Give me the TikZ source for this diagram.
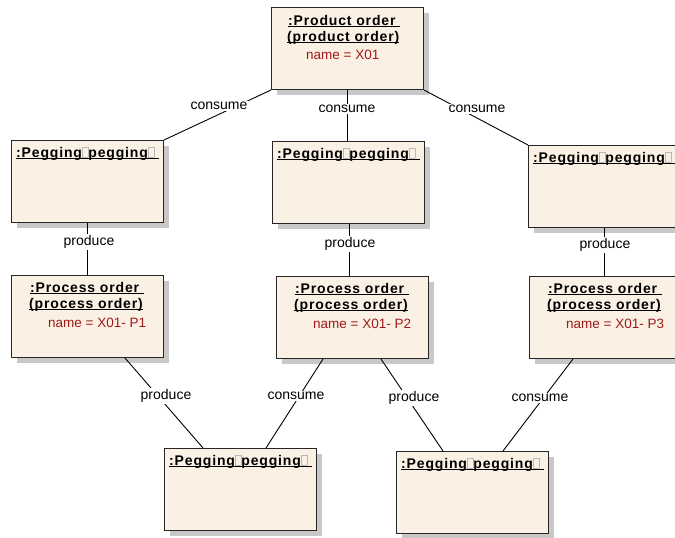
\documentclass[tikz,border=0pt]{standalone}
\usepackage{fontspec}
\setmainfont{Liberation Sans}
\newfontfamily\titlefam[LetterSpace=6]{Liberation Sans}
\usetikzlibrary{shadows,calc}
\definecolor{boxfill}{RGB}{250,240,227}
\definecolor{namered}{RGB}{160,25,25}
\definecolor{shadowgray}{RGB}{200,200,200}

% underline running through the descenders, as in the object headers
\newcommand{\ulin}[1]{\setbox0=\hbox{#1}\rlap{\rule[-1.8pt]{\wd0}{0.9pt}}\box0}
% empty glyph box
\newcommand{\gbx}{{\color{black!28}\fboxsep0pt\fboxrule0.45pt\fbox{\rule{0pt}{9.5pt}\kern5.5pt}}}

\begin{document}
\begin{tikzpicture}[x=1pt,y=-1pt,
  objbox/.style={draw=black!85, line width=1pt, fill=boxfill,
    minimum width=152pt, minimum height=82pt, anchor=north west, inner sep=0pt,
    drop shadow={shadow xshift=5pt, shadow yshift=-5pt, fill=shadowgray, opacity=1}},
  ttl/.style={anchor=base west, inner sep=0pt, font=\titlefam\bfseries\fontsize{14}{16}\selectfont},
  nm/.style={anchor=base west, inner sep=0pt, text=namered, font=\fontsize{13.5}{16}\selectfont},
  lbl/.style={fill=white, inner sep=1.5pt, font=\fontsize{14}{16}\selectfont},
  link/.style={draw=black, line width=0.9pt}]
\useasboundingbox (0,0) rectangle (675,538);
\clip (0,0) rectangle (675,538);

% object boxes
\node[objbox] (po)   at (271,7)   {};
\node[objbox] (pgL)  at (11,140)  {};
\node[objbox] (pgM)  at (272,141) {};
\node[objbox] (pgR)  at (528,145) {};
\node[objbox] (prL)  at (11,275)  {};
\node[objbox] (prM)  at (276,276) {};
\node[objbox] (prR)  at (529,276) {};
\node[objbox] (pgBL) at (164,448) {};
\node[objbox] (pgBR) at (396,451) {};

% product order
\node[ttl] (poT1) at ($(po.north west)+(17,18)$) {\ulin{:Product order\ }};
\node[ttl] (poT2) at ($(po.north west)+(16,34)$) {\ulin{(product order)}};
\node[nm]  (poN)  at ($(po.north west)+(35,52)$) {name = X01};

% pegging objects
\foreach \p in {pgL,pgM,pgR,pgBL,pgBR}
  \node[ttl] (\p T) at ($(\p.north west)+(5,17)$) {\ulin{:Pegging\gbx pegging\gbx\ }};

% process orders
\foreach \p/\n in {prL/1,prM/2,prR/3}{
  \node[ttl] (\p T1) at ($(\p.north west)+(19,17)$) {\ulin{:Process order\ }};
  \node[ttl] (\p T2) at ($(\p.north west)+(18,33)$) {\ulin{(process order)}};
  \node[nm]  (\p N)  at ($(\p.north west)+(37,52)$) {name = X01- P\n};
}

% links
\coordinate (a1) at ($(prL.south west)+(114,0)$);
\coordinate (b1) at ($(pgBL.north west)+(39,0)$);
\coordinate (a2) at ($(prM.south west)+(47,0)$);
\coordinate (b2) at ($(pgBL.north west)+(102,0)$);
\coordinate (a3) at ($(prM.south west)+(105,0)$);
\coordinate (b3) at ($(pgBR.north west)+(47,0)$);
\coordinate (a4) at ($(prR.south west)+(44,0)$);
\coordinate (b4) at ($(pgBR.north west)+(107,0)$);

\draw[link] (po.south west) -- (pgL.north east);
\draw[link] (po.south) -- (po.south |- pgM.north);
\draw[link] (po.south east) -- (pgR.north west);
\draw[link] (pgL.south) -- (pgL.south |- prL.north);
\draw[link] ([xshift=1pt]pgM.south) -- ([xshift=1pt]pgM.south |- prM.north);
\draw[link] (pgR.south) -- (pgR.south |- prR.north);
\draw[link] (a1) -- (b1);
\draw[link] (a2) -- (b2);
\draw[link] (a3) -- (b3);
\draw[link] (a4) -- (b4);

% link labels
\node[lbl] (l1)  at (219,106) {consume};
\node[lbl] (l2)  at (347,109) {consume};
\node[lbl] (l3)  at (477,109) {consume};
\node[lbl] (l4)  at (89,242)  {produce};
\node[lbl] (l5)  at (350,244) {produce};
\node[lbl] (l6)  at (605,245) {produce};
\node[lbl] (l7)  at (166,396) {produce};
\node[lbl] (l8)  at (296,396) {consume};
\node[lbl] (l9)  at (414,398) {produce};
\node[lbl] (l10) at (540,398) {consume};
\end{tikzpicture}
\end{document}
